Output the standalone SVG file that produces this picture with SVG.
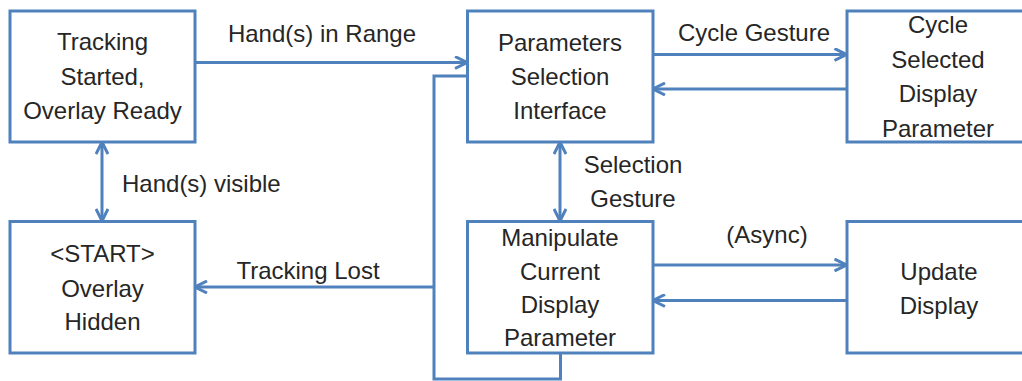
<svg xmlns="http://www.w3.org/2000/svg" width="1022" height="381" viewBox="0 0 1022 381">
<style>
.box{fill:#fff;stroke:#4F81BD;stroke-width:3}
.conn{fill:none;stroke:#4F81BD;stroke-width:3}
text{font-family:"Liberation Sans",Arial,sans-serif;font-size:24px;fill:#262626}
.c{text-anchor:middle}
</style>
<defs>
<marker id="arr" viewBox="0 0 14 14" refX="13" refY="7" markerWidth="14" markerHeight="14" markerUnits="userSpaceOnUse" orient="auto-start-reverse">
<path d="M1,1 L13,7 L1,13" fill="none" stroke="#4F81BD" stroke-width="3"/>
</marker>
</defs>
<rect width="1022" height="381" fill="#fff"/>
<g id="connectors">
<path class="conn" d="M195,62.5 H467" marker-end="url(#arr)"/>
<path class="conn" d="M653,54.5 H846.5" marker-end="url(#arr)"/>
<path class="conn" d="M846.5,89 H653" marker-end="url(#arr)"/>
<path class="conn" d="M653,265 H846.5" marker-end="url(#arr)"/>
<path class="conn" d="M846.5,300.5 H653" marker-end="url(#arr)"/>
<path class="conn" d="M102,142 V221" marker-start="url(#arr)" marker-end="url(#arr)"/>
<path class="conn" d="M560,142 V221" marker-start="url(#arr)" marker-end="url(#arr)"/>
<path class="conn" d="M560.5,353 V379 H434 V76 H467"/>
<path class="conn" d="M434,287 H195" marker-end="url(#arr)"/>
<text x="322" y="42" class="c">Hand(s) in Range</text>
<text x="754" y="41" class="c">Cycle Gesture</text>
<text x="122" y="192">Hand(s) visible</text>
<text x="308" y="279" class="c">Tracking Lost</text>
<text x="633" y="173" class="c">Selection</text>
<text x="633" y="206.5" class="c">Gesture</text>
<text x="767" y="243" class="c">(Async)</text>
</g>
<g id="tracking-started">
<rect class="box" x="10" y="11" width="185" height="131"/>
<text x="102.5" y="50" class="c">Tracking</text>
<text x="102.5" y="84.5" class="c">Started,</text>
<text x="102.5" y="119" class="c">Overlay Ready</text>
</g>
<g id="overlay-hidden">
<rect class="box" x="10" y="221.5" width="185" height="131.5"/>
<text x="102.5" y="262" class="c">&lt;START&gt;</text>
<text x="102.5" y="296.5" class="c">Overlay</text>
<text x="102.5" y="330" class="c">Hidden</text>
</g>
<g id="parameters-selection">
<rect class="box" x="467.5" y="11" width="185.5" height="131"/>
<text x="560" y="51" class="c">Parameters</text>
<text x="560" y="85" class="c">Selection</text>
<text x="560" y="118.5" class="c">Interface</text>
</g>
<g id="manipulate-parameter">
<rect class="box" x="467.5" y="221.5" width="185.5" height="131.5"/>
<text x="560" y="246" class="c">Manipulate</text>
<text x="560" y="280" class="c">Current</text>
<text x="560" y="313" class="c">Display</text>
<text x="560" y="346" class="c">Parameter</text>
</g>
<g id="cycle-parameter">
<rect class="box" x="847" y="11" width="185" height="131"/>
<text x="938" y="33" class="c">Cycle</text>
<text x="938" y="67.5" class="c">Selected</text>
<text x="938" y="102" class="c">Display</text>
<text x="938" y="136.5" class="c">Parameter</text>
</g>
<g id="update-display">
<rect class="box" x="847" y="221.5" width="185" height="131.5"/>
<text x="939" y="280" class="c">Update</text>
<text x="939" y="314" class="c">Display</text>
</g>
</svg>
